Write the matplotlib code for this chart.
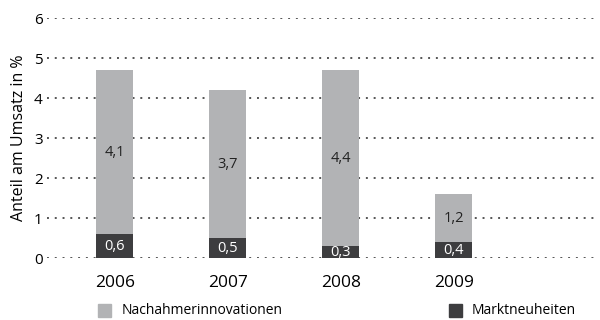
import matplotlib
matplotlib.use("Agg")
import matplotlib.pyplot as plt
from matplotlib.patches import Rectangle

years = ["2006", "2007", "2008", "2009"]
markt = [0.6, 0.5, 0.3, 0.4]
nachahmer = [4.1, 3.7, 4.4, 1.2]
yticks = [0, 1, 2, 3, 4, 5, 6]

light = "#b2b3b5"
dark = "#3d3d3f"

plt.rcParams['font.family'] = ['Open Sans', 'DejaVu Sans']

fig = plt.figure(figsize=(6, 3.2), dpi=100)
ax = fig.add_axes([47/600, 1-258/320, (595-47)/600, 240/320])

x = list(range(len(years)))
w = 0.33
ax.bar(x, markt, width=w, color=dark, zorder=3)
ax.bar(x, nachahmer, width=w, bottom=markt, color=light, zorder=3)

for i in x:
    ax.text(i, markt[i]/2, str(markt[i]).replace(".", ","), ha="center", va="center",
            color="white", fontsize=10.5, zorder=4)
    ax.text(i, markt[i] + nachahmer[i]/2, str(nachahmer[i]).replace(".", ","),
            ha="center", va="center", color="#222222", fontsize=10.5, zorder=4)

for t in yticks:
    ax.axhline(t, color="#555555", linewidth=1.4, linestyle=(0, (1, 3)), zorder=1)

ax.set_xlim(-0.6, 4.25)
ax.set_ylim(0, 6)
ax.set_yticks(yticks)
ax.set_yticklabels([str(t) for t in yticks], fontsize=11)
ax.set_xticks(x)
ax.set_xticklabels(years, fontsize=12.5)
ax.tick_params(axis="y", length=0, pad=3)
ax.tick_params(axis="x", length=0, pad=12)
for s in ax.spines.values():
    s.set_visible(False)
ax.set_ylabel("Anteil am Umsatz in %", fontsize=11.5, labelpad=5)

# legend
fig.patches.append(Rectangle((98/600, 1-317/320), 13/600, 13/320, transform=fig.transFigure,
                             color=light))
fig.text(122/600, 1-311/320, "Nachahmerinnovationen", fontsize=10, va="center")
fig.patches.append(Rectangle((449/600, 1-317/320), 13/600, 13/320, transform=fig.transFigure,
                             color=dark))
fig.text(472/600, 1-311/320, "Marktneuheiten", fontsize=10, va="center")

fig.savefig("out.png", dpi=100)
